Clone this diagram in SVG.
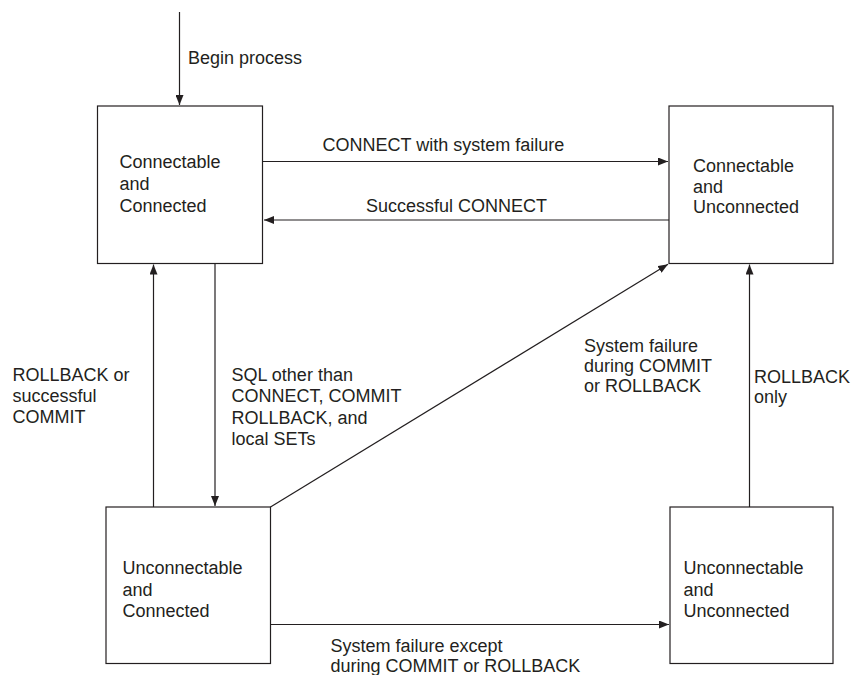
<svg xmlns="http://www.w3.org/2000/svg" width="853" height="675" viewBox="0 0 853 675">
  <defs>
    <marker id="arrow" viewBox="0 0 10 8" refX="10" refY="4" markerWidth="10" markerHeight="8" markerUnits="userSpaceOnUse" orient="auto">
      <path d="M0,0 L10,4 L0,8 Z" fill="#231f20"/>
    </marker>
    <style>
      .state { fill: #ffffff; stroke: #231f20; stroke-width: 1.2; }
      .edge { fill: none; stroke: #231f20; stroke-width: 1.2; marker-end: url(#arrow); }
      text { font-family: "Liberation Sans", Arial, sans-serif; font-size: 18px; fill: #231f20; }
    </style>
  </defs>
  <rect width="853" height="675" fill="#ffffff"/>

  <!-- transitions -->
  <g id="connectors">
    <line class="edge" x1="179.5" y1="12" x2="179.5" y2="105"/>
    <line class="edge" x1="262.5" y1="161.5" x2="668" y2="161.5"/>
    <line class="edge" x1="669" y1="220" x2="264" y2="220"/>
    <line class="edge" x1="153.5" y1="507" x2="153.5" y2="264.5"/>
    <line class="edge" x1="215" y1="263.5" x2="215" y2="506"/>
    <line class="edge" x1="270.5" y1="507" x2="668" y2="264.2"/>
    <line class="edge" x1="749.5" y1="507" x2="749.5" y2="264.5"/>
    <line class="edge" x1="270.5" y1="624.5" x2="669" y2="624.5"/>

    <text x="188" y="64">Begin process</text>
    <text x="322.5" y="150.5">CONNECT with system failure</text>
    <text x="366" y="211.5">Successful CONNECT</text>
    <text x="12.5" y="380.5">ROLLBACK or</text>
    <text x="12.5" y="401.5">successful</text>
    <text x="12.5" y="422.5">COMMIT</text>
    <text x="231.5" y="380.5">SQL other than</text>
    <text x="231.5" y="402">CONNECT, COMMIT</text>
    <text x="231.5" y="423.5">ROLLBACK, and</text>
    <text x="231.5" y="444.5">local SETs</text>
    <text x="584" y="352">System failure</text>
    <text x="584" y="372">during COMMIT</text>
    <text x="584" y="391.5">or ROLLBACK</text>
    <text x="754" y="383">ROLLBACK</text>
    <text x="754" y="403">only</text>
    <text x="330.5" y="651.5">System failure except</text>
    <text x="330.5" y="672">during COMMIT or ROLLBACK</text>
  </g>

  <!-- states -->
  <g id="connectable-connected">
    <rect class="state" x="97.5" y="106" width="165" height="157.5"/>
    <text x="119.5" y="168">Connectable</text>
    <text x="119.5" y="190">and</text>
    <text x="119.5" y="212">Connected</text>
  </g>
  <g id="connectable-unconnected">
    <rect class="state" x="669" y="106" width="164" height="157.5"/>
    <text x="693" y="171.5">Connectable</text>
    <text x="693" y="192.5">and</text>
    <text x="693" y="212.5">Unconnected</text>
  </g>
  <g id="unconnectable-connected">
    <rect class="state" x="106" y="507" width="164.5" height="156.5"/>
    <text x="122.5" y="574">Unconnectable</text>
    <text x="122.5" y="595.5">and</text>
    <text x="122.5" y="616.5">Connected</text>
  </g>
  <g id="unconnectable-unconnected">
    <rect class="state" x="670" y="507" width="163" height="156.5"/>
    <text x="683.5" y="574">Unconnectable</text>
    <text x="683.5" y="595.5">and</text>
    <text x="683.5" y="616.5">Unconnected</text>
  </g>
</svg>
